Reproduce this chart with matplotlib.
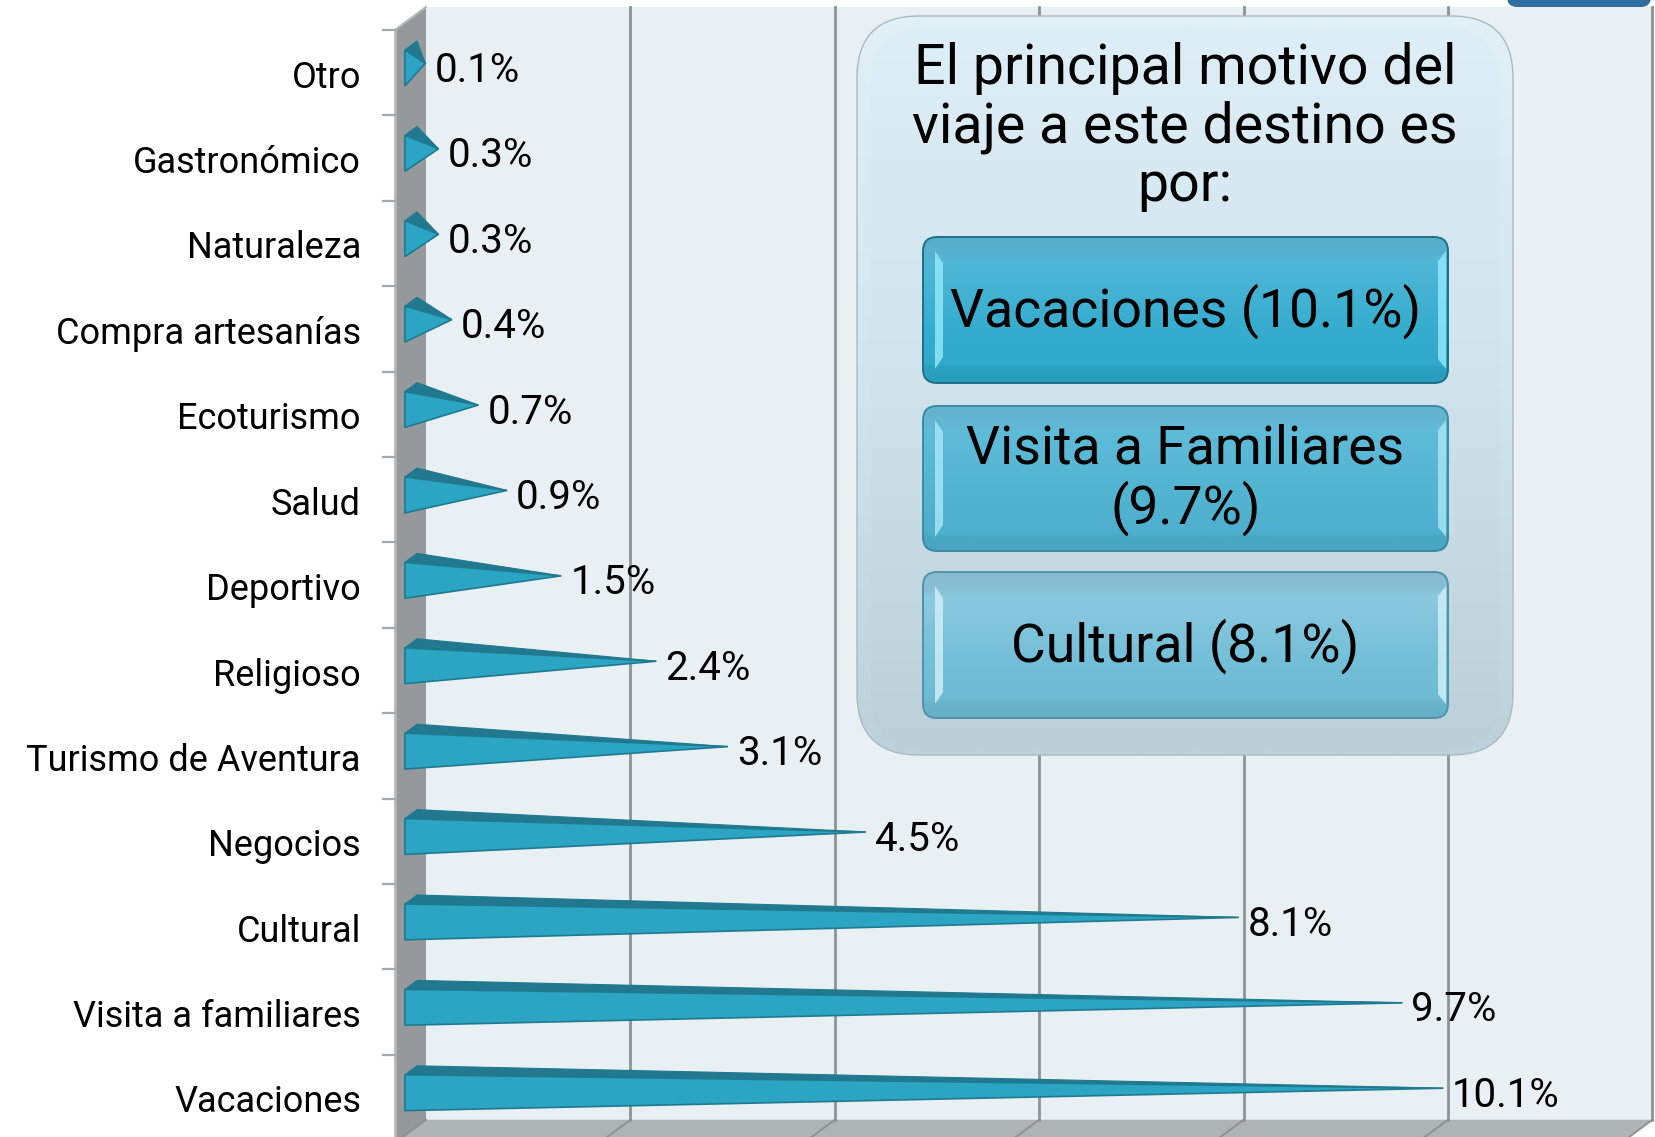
#!/usr/bin/env python3
"""Motivo del viaje: 3D style pyramid bars with a summary panel on top"""

import numpy as np
import matplotlib
matplotlib.use('Agg')
import matplotlib.pyplot as plt
from matplotlib.colors import LinearSegmentedColormap
from matplotlib.patches import FancyBboxPatch, Polygon

plt.rcParams['font.family'] = ['Roboto', 'DejaVu Sans']

categories = ['Otro', 'Gastronómico', 'Naturaleza', 'Compra artesanías', 'Ecoturismo',
              'Salud', 'Deportivo', 'Religioso', 'Turismo de Aventura', 'Negocios',
              'Cultural', 'Visita a familiares', 'Vacaciones']
values = [0.14, 0.27, 0.27, 0.4, 0.66, 0.94, 1.47, 2.4, 3.1, 4.45, 8.1, 9.7, 10.1]
value_labels = ['0.1%', '0.3%', '0.3%', '0.4%', '0.7%', '0.9%', '1.5%', '2.4%', '3.1%', '4.5%',
                '8.1%', '9.7%', '10.1%']
grid_values = [0, 2, 4, 6, 8, 10, 12]

panel_title = 'El principal motivo del\nviaje a este destino es\npor:'
summary_labels = ['Vacaciones (10.1%)', 'Visita a Familiares\n(9.7%)', 'Cultural (8.1%)']

W, H = 1655, 1137
PX_PER_VALUE = 102.2
PX_PER_CAT = 85.4
ORIGIN_X, ORIGIN_Y = 395, 30
DEPTH_X, DEPTH_Y = 31, 23


def project(v, c, d):
    """Oblique projection: value, category position, depth (0 front, 1 back)"""
    return v + d * DEPTH_X / PX_PER_VALUE, c - d * DEPTH_Y / PX_PER_CAT


def gradient_box(ax, x0, y0, x1, y1, radius, stops, edge, lw, zorder):
    """Rounded box filled with a vertical gradient"""
    cmap = LinearSegmentedColormap.from_list('g', stops, N=256)
    grad = np.linspace(0, 1, 256).reshape(-1, 1)
    im = ax.imshow(grad, cmap=cmap, extent=(x0, x1, y1, y0), aspect='auto', zorder=zorder,
                   vmin=0, vmax=1)
    box = FancyBboxPatch((x0 + radius, y0 + radius), x1 - x0 - 2 * radius, y1 - y0 - 2 * radius,
                         boxstyle=f'round,pad={radius},rounding_size={radius}',
                         facecolor='none', edgecolor=edge, linewidth=lw, zorder=zorder + 0.1)
    ax.add_patch(box)
    im.set_clip_path(box)


fig = plt.figure(figsize=(W / 100, H / 100), dpi=100, facecolor='white')
ax = fig.add_axes([0, 0, 1, 1])
ax.set_xlim(-ORIGIN_X / PX_PER_VALUE, (W - ORIGIN_X) / PX_PER_VALUE)
ax.set_ylim((H - ORIGIN_Y) / PX_PER_CAT, -ORIGIN_Y / PX_PER_CAT)
ax.axis('off')

n = len(categories)
v_max = grid_values[-1]
c_bottom = n + 0.03

# walls and floor
wall = [project(0, 0, 1), project(v_max, 0, 1), project(v_max, c_bottom, 1), project(0, c_bottom, 1)]
ax.add_patch(Polygon(wall, facecolor='#e8f0f4', edgecolor='none', zorder=1))
side = [project(0, 0, 0), project(0, 0, 1), project(0, c_bottom, 1), project(0, c_bottom, 0)]
ax.add_patch(Polygon(side, facecolor='#95999b', edgecolor='none', zorder=1))
floor = [project(0, c_bottom, 1), project(v_max, c_bottom, 1), project(v_max, c_bottom, 0), project(0, c_bottom, 0)]
ax.add_patch(Polygon(floor, facecolor='#aeb3b5', edgecolor='none', zorder=1))

# gridlines, running on across the floor
for g in grid_values:
    x_back, y_top = project(g, 0, 1)
    x_bot, y_bot = project(g, c_bottom, 1)
    x_front, y_front = project(g, c_bottom, 0)
    if g > 0:
        ax.plot([x_back, x_bot], [y_top, y_bot], color='#8e9294', lw=2, zorder=2)
    ax.plot([x_bot, x_front], [y_bot, y_front], color='#8e9294', lw=1.4, zorder=2)

# left edge and ticks of the category axis
x_left, _ = project(0, 0, 0)
ax.plot([x_left, x_left], [0, c_bottom], color='#b4b8ba', lw=2, zorder=2)
ax.plot([x_left, project(0, 0, 1)[0]], [0, project(0, 0, 1)[1]], color='#b4b8ba', lw=1.5, zorder=2)
tick_len = 12 / PX_PER_VALUE
for i in range(n):
    ax.plot([x_left - tick_len, x_left], [i, i], color='#a5a9ab', lw=1.6, zorder=2)

# pyramids
half_h, half_d = 0.21, 0.195
d_mid, c_off = 0.515, 0.53
for i, (name, val, lab) in enumerate(zip(categories, values, value_labels)):
    c = i + c_off
    apex = project(val, c, d_mid)
    front_top = project(0, c - half_h, d_mid - half_d)
    front_bot = project(0, c + half_h, d_mid - half_d)
    back_top = project(0, c - half_h, d_mid + half_d)
    ax.add_patch(Polygon([back_top, apex, front_top], facecolor='#22788f', edgecolor='#1f7a90',
                         linewidth=0.8, zorder=3))
    ax.add_patch(Polygon([front_top, apex, front_bot], facecolor='#2ca4c4', edgecolor='#1f7a90',
                         linewidth=1.2, zorder=3))
    ax.annotate(lab, xy=apex, xytext=(9, -7), textcoords='offset pixels',
                ha='left', va='center', fontsize=29, color='black', zorder=6)
    ax.annotate(name, xy=(x_left, i + 0.5), xytext=(-34, -5), textcoords='offset pixels',
                ha='right', va='center', fontsize=26, color='black', zorder=6)

# summary panel drawn on a pixel overlay
ov = fig.add_axes([0, 0, 1, 1])
ov.set_xlim(0, W)
ov.set_ylim(H, 0)
ov.axis('off')
ov.patch.set_alpha(0)

# tab cut off at the top right corner
ov.add_patch(FancyBboxPatch((1517, -20), 124, 17, boxstyle='round,pad=10,rounding_size=10',
                            facecolor='#2f6f9f', edgecolor='none', zorder=2))

gradient_box(ov, 857, 16, 1513, 755, 62, [(0, '#e2f0f7'), (0.5, '#d2e5ef'), (1, '#bcd1da')],
             '#a8bac2', 1.0, 3)
gradient_box(ov, 871, 28, 1499, 750, 54, [(0, '#deeef6'), (0.5, '#d0e3ed'), (1, '#bacfd8')],
             'none', 0, 3.2)
ov.text(1185, 127, panel_title, ha='center', va='center', fontsize=40, color='black',
        linespacing=1.13, zorder=6)

button_boxes = [(923, 237, 1448, 383), (923, 406, 1448, 551), (923, 572, 1448, 718)]
button_stops = [
    [(0, '#56aecd'), (0.12, '#57b1d0'), (0.17, '#50b7d6'), (0.6, '#37add0'), (0.87, '#30a9cc'), (0.9, '#2ba0c0'), (1, '#2a9dbd')],
    [(0, '#63b3cf'), (0.12, '#64b6d2'), (0.17, '#5fbcd9'), (0.6, '#52b4d1'), (0.87, '#4eb0ce'), (0.9, '#4aa8c4'), (1, '#4aa6c2')],
    [(0, '#86bbd0'), (0.12, '#88bfd4'), (0.17, '#8ccae0'), (0.6, '#74bfd8'), (0.87, '#6fbbd4'), (0.9, '#69b2ca'), (1, '#68b0c8')],
]
button_edges = ['#1f6f86', '#3a8aa3', '#4f93a9']
button_shine = ['#8fe8f8', '#a5e6f4', '#cfeef5']
for (x0, y0, x1, y1), stops, edge, shine, label in zip(button_boxes, button_stops, button_edges,
                                                       button_shine, summary_labels):
    gradient_box(ov, x0, y0, x1, y1, 14, stops, edge, 1.4, 4)
    ov.add_patch(Polygon([(x0 + 12, y0 + 14), (x0 + 20, y0 + 26), (x0 + 20, y1 - 26), (x0 + 12, y1 - 14)],
                         facecolor=shine, edgecolor='none', alpha=0.85, zorder=4.5))
    ov.add_patch(Polygon([(x1 - 2, y0 + 14), (x1 - 10, y0 + 24), (x1 - 10, y1 - 24), (x1 - 2, y1 - 14)],
                         facecolor=shine, edgecolor='none', alpha=0.85, zorder=4.5))
    ov.text((x0 + x1) / 2, (y0 + y1) / 2 + 1, label, ha='center', va='center', fontsize=38.5,
            color='black', linespacing=1.13, zorder=6)

ov.set_xlim(0, W)
ov.set_ylim(H, 0)
fig.savefig('out.png', dpi=100, facecolor='white')
